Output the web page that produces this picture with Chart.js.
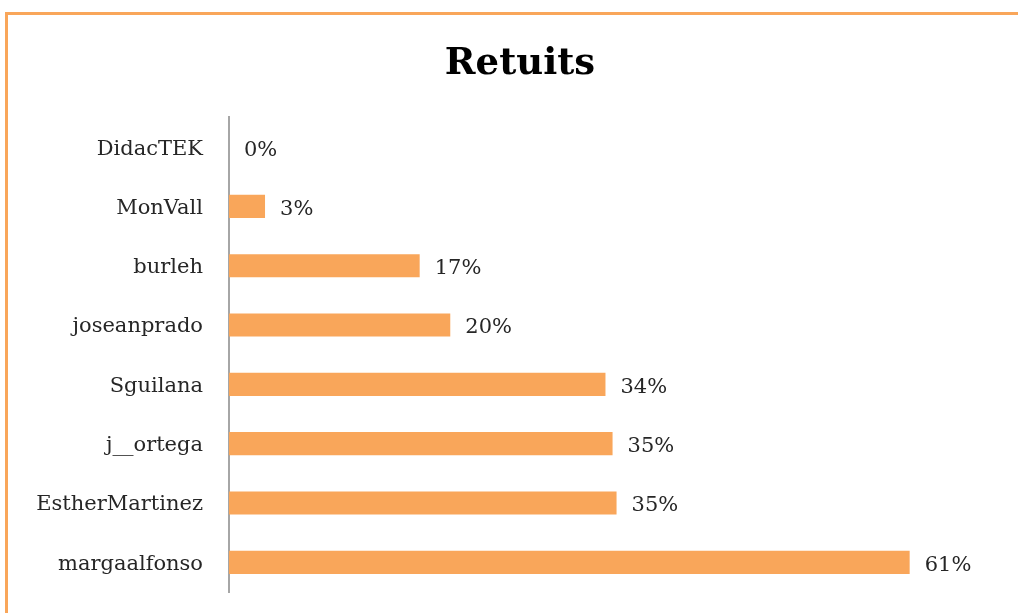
<!DOCTYPE html>
<html>
<head>
<meta charset="utf-8">
<script src="https://cdn.jsdelivr.net/npm/chart.js@4/dist/chart.umd.min.js"></script>
<style>
  html, body { margin: 0; padding: 0; background: #fff; overflow: hidden; }
  #wrap { position: absolute; left: 0; top: 0; width: 1018px; height: 613px; }
  #frame { position: absolute; left: 5px; top: 12px; width: 1100px; height: 700px;
           border-top: 3px solid #F9A65A; border-left: 3px solid #F9A65A; box-sizing: border-box; pointer-events: none; }
  canvas { position: absolute; left: 0; top: 0; }
</style>
</head>
<body>
<div id="wrap">
  <canvas id="c" width="1018" height="613"></canvas>
  <div id="frame"></div>
</div>
<script>
const categories = ["DidacTEK", "MonVall", "burleh", "joseanprado", "Sguilana", "j__ortega", "EstherMartinez", "margaalfonso"];
const retuits = [0, 3.25, 17.2, 19.96, 33.96, 34.6, 34.96, 61.4];
const valueLabels = ["0%", "3%", "17%", "20%", "34%", "35%", "35%", "61%"];
const chartTitle = "Retuits";

const FONT = "'DejaVu Serif', serif";
const TEXT = "#262626";

const barLabels = {
  id: 'barLabels',
  afterDatasetsDraw(chart) {
    const ctx = chart.ctx;
    const meta = chart.getDatasetMeta(0);
    ctx.save();
    ctx.font = "21px " + FONT;
    ctx.fillStyle = TEXT;
    ctx.textAlign = "left";
    ctx.textBaseline = "middle";
    meta.data.forEach((bar, i) => {
      ctx.fillText(valueLabels[i], bar.x + 15, bar.y + 3);
    });
    ctx.restore();
  }
};

new Chart(document.getElementById('c'), {
  type: 'bar',
  data: {
    labels: categories,
    datasets: [{
      data: retuits,
      backgroundColor: '#F9A65A',
      borderWidth: 0,
      categoryPercentage: 1,
      barPercentage: 0.39
    }]
  },
  options: {
    indexAxis: 'y',
    responsive: false,
    animation: false,
    layout: { padding: { top: 0, right: 13, bottom: 21, left: 35 } },
    plugins: {
      legend: { display: false },
      tooltip: { enabled: false },
      title: {
        display: true,
        text: chartTitle,
        color: '#000',
        font: { family: FONT, size: 37, weight: 'bold' },
        padding: { top: 42, bottom: 31 }
      }
    },
    scales: {
      x: {
        display: false,
        min: 0,
        max: 70,
        grid: { display: false }
      },
      y: {
        grid: { display: false, drawTicks: false },
        border: { display: true, color: '#A6A6A6', width: 2 },
        afterFit(scale) { scale.width = 194; scale.paddingTop = 0; scale.paddingBottom = 0; },
        ticks: {
          color: TEXT,
          padding: 26,
          labelOffset: 2,
          font: { family: FONT, size: 21 }
        }
      }
    }
  },
  plugins: [barLabels]
});
</script>
</body>
</html>
